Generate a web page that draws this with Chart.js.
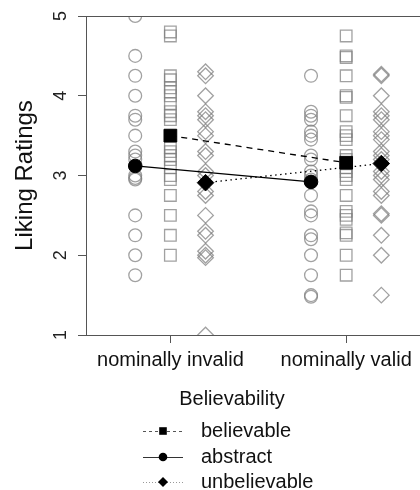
<!DOCTYPE html>
<html>
<head>
<meta charset="utf-8">
<script src="https://cdn.jsdelivr.net/npm/chart.js@4/dist/chart.umd.min.js"></script>
<style>
html, body { margin: 0; padding: 0; background: #ffffff; }
canvas { display: block; }
</style>
</head>
<body>
<canvas id="c" width="420" height="490"></canvas>
<script>
// ---------- data ----------
const CATEGORIES = ['nominally invalid', 'nominally valid'];
const SERIES = ['believable', 'abstract', 'unbelievable'];
const Y_TICKS = [1, 2, 3, 4, 5];
const Y_TITLE = 'Liking Ratings';
const LEGEND_TITLE = 'Believability';

// individual liking ratings (open grey markers)
const believableInvalid = [4.8, 4.75, 4.25, 4.2, 4.1, 4.05, 4.0, 3.9, 3.8, 3.75, 3.7, 3.35, 3.3, 3.25, 3.2, 3.1, 3.0, 2.95, 2.75, 2.5, 2.25, 2.0];
const believableValid = [4.75, 4.5, 4.48, 4.25, 4.0, 3.98, 3.75, 3.55, 3.5, 3.45, 3.25, 3.2, 3.1, 3.05, 3.0, 2.95, 2.75, 2.55, 2.5, 2.45, 2.28, 2.25, 2.0, 1.75];
const abstractInvalid = [5.0, 4.5, 4.25, 4.0, 3.75, 3.7, 3.5, 3.3, 3.25, 3.2, 3.0, 2.97, 2.95, 2.5, 2.25, 2.0, 1.75];
const abstractValid = [4.25, 3.8, 3.75, 3.7, 3.55, 3.5, 3.45, 3.25, 3.2, 3.05, 3.0, 2.95, 2.75, 2.55, 2.5, 2.25, 2.2, 2.0, 1.75, 1.5, 1.48];
const unbelievableInvalid = [4.3, 4.25, 4.0, 3.8, 3.75, 3.7, 3.55, 3.5, 3.3, 3.25, 3.05, 3.0, 2.8, 2.75, 2.5, 2.3, 2.25, 2.05, 2.0, 1.97, 1.0];
const unbelievableValid = [4.27, 4.25, 4.0, 3.8, 3.75, 3.7, 3.55, 3.5, 3.45, 3.3, 3.25, 3.2, 3.05, 3.0, 2.95, 2.8, 2.75, 2.52, 2.5, 2.25, 2.0, 1.5];

// condition means (filled black markers, connected)
const believableMeans = [3.50, 3.16];
const abstractMeans = [3.12, 2.92];
const unbelievableMeans = [2.91, 3.15];

// ---------- presentation ----------
const FONT = '"Liberation Sans", Arial, Helvetica, sans-serif';
const RAW = {
  believable: [believableInvalid, believableValid],
  abstract: [abstractInvalid, abstractValid],
  unbelievable: [unbelievableInvalid, unbelievableValid]
};
const MEANS = { believable: believableMeans, abstract: abstractMeans, unbelievable: unbelievableMeans };
const DODGE = { believable: 0, abstract: -0.2, unbelievable: 0.2 };
const STYLE = { believable: 'rect', abstract: 'circle', unbelievable: 'rectRot' };
const RAW_R = { believable: 8.2, abstract: 6.4, unbelievable: 7.8 };
const MEAN_R = { believable: 9, abstract: 6.8, unbelievable: 8.3 };
const DASH = { believable: [6, 5], abstract: [], unbelievable: [1.5, 3.5] };
const RAW_COLOR = 'rgba(125,125,125,0.72)';

const datasets = [];
SERIES.forEach(s => {
  datasets.push({
    label: s + ' mean',
    data: MEANS[s].map((m, i) => ({ x: i + 1 + DODGE[s], y: m })),
    showLine: true,
    borderColor: '#000',
    borderWidth: 1.3,
    borderDash: DASH[s],
    pointStyle: STYLE[s],
    pointRadius: MEAN_R[s],
    pointBackgroundColor: '#000',
    pointBorderColor: '#000',
    pointBorderWidth: 1,
    order: 0
  });
});
SERIES.forEach(s => {
  const pts = [];
  RAW[s].forEach((vals, i) => vals.forEach(v => pts.push({ x: i + 1 + DODGE[s], y: v })));
  datasets.push({
    label: s,
    data: pts,
    showLine: false,
    pointStyle: STYLE[s],
    pointRadius: RAW_R[s],
    pointBackgroundColor: 'rgba(0,0,0,0)',
    pointBorderColor: RAW_COLOR,
    pointBorderWidth: 1.3,
    clip: 0,
    order: 2
  });
});

const boxPlugin = {
  id: 'topBorder',
  afterDatasetsDraw(chart) {
    const { ctx, chartArea } = chart;
    ctx.save();
    ctx.strokeStyle = '#555';
    ctx.lineWidth = 1;
    ctx.beginPath();
    ctx.moveTo(chartArea.left, chartArea.top + 0.5);
    ctx.lineTo(chartArea.right, chartArea.top + 0.5);
    ctx.stroke();
    ctx.restore();
  }
};

function drawMarker(ctx, style, x, y, r) {
  ctx.beginPath();
  if (style === 'circle') {
    ctx.arc(x, y, r, 0, Math.PI * 2);
  } else if (style === 'rect') {
    ctx.rect(x - r, y - r, 2 * r, 2 * r);
  } else {
    ctx.moveTo(x, y - r); ctx.lineTo(x + r, y); ctx.lineTo(x, y + r); ctx.lineTo(x - r, y); ctx.closePath();
  }
  ctx.fill();
}

const legendPlugin = {
  id: 'rLegend',
  afterDraw(chart) {
    const ctx = chart.ctx;
    ctx.save();
    ctx.fillStyle = '#111';
    ctx.font = '20px ' + FONT;
    ctx.textAlign = 'center';
    ctx.textBaseline = 'middle';
    ctx.fillText(LEGEND_TITLE, 232, 399);
    const rowY = [431, 457, 482];
    const mSize = { believable: 3.8, abstract: 4.3, unbelievable: 5 };
    const lineCol = { believable: '#555', abstract: '#333', unbelievable: '#999' };
    const legDash = { believable: [3, 3], abstract: [], unbelievable: [1, 2] };
    SERIES.forEach((s, i) => {
      const y = rowY[i];
      ctx.save();
      ctx.strokeStyle = lineCol[s];
      ctx.lineWidth = 1;
      ctx.setLineDash(legDash[s]);
      ctx.beginPath();
      ctx.moveTo(143, y + 0.5);
      ctx.lineTo(183, y + 0.5);
      ctx.stroke();
      ctx.restore();
      ctx.fillStyle = '#000';
      drawMarker(ctx, STYLE[s], 163, y, mSize[s]);
      ctx.fillStyle = '#111';
      ctx.textAlign = 'left';
      ctx.fillText(s, 201, y);
    });
    ctx.restore();
  }
};

new Chart(document.getElementById('c'), {
  type: 'scatter',
  data: { datasets },
  options: {
    responsive: false,
    animation: false,
    devicePixelRatio: 1,
    events: [],
    layout: { autoPadding: false, padding: { top: 16, right: 0, left: 0, bottom: 0 } },
    plugins: { legend: { display: false }, tooltip: { enabled: false } },
    scales: {
      x: {
        type: 'linear',
        min: 0.52,
        max: 2.42,
        afterBuildTicks: sc => { sc.ticks = CATEGORIES.map((c, i) => ({ value: i + 1 })); },
        afterFit: sc => { sc.height = 155; sc.paddingLeft = 0; sc.paddingRight = 0; },
        ticks: {
          callback: v => CATEGORIES[v - 1],
          font: { family: FONT, size: 20 },
          color: '#111',
          padding: 5,
          maxRotation: 0,
          minRotation: 0,
          autoSkip: false
        },
        grid: { drawOnChartArea: false, drawTicks: true, tickLength: 8, color: '#555', lineWidth: 1 },
        border: { display: true, color: '#555', width: 1 }
      },
      y: {
        min: 1,
        max: 5,
        afterBuildTicks: sc => { sc.ticks = Y_TICKS.map(v => ({ value: v })); },
        afterFit: sc => { sc.width = 86; sc.paddingTop = 0; sc.paddingBottom = 0; },
        ticks: {
          font: { family: FONT, size: 18 },
          color: '#222',
          minRotation: 90,
          maxRotation: 90,
          crossAlign: 'center',
          padding: 12
        },
        grid: { drawOnChartArea: false, drawTicks: true, tickLength: 8, color: '#555', lineWidth: 1 },
        border: { display: true, color: '#555', width: 1 },
        title: {
          display: true,
          text: Y_TITLE,
          font: { family: FONT, size: 24 },
          color: '#111',
          padding: { top: 11, bottom: 0 }
        }
      }
    }
  },
  plugins: [boxPlugin, legendPlugin]
});
</script>
</body>
</html>
